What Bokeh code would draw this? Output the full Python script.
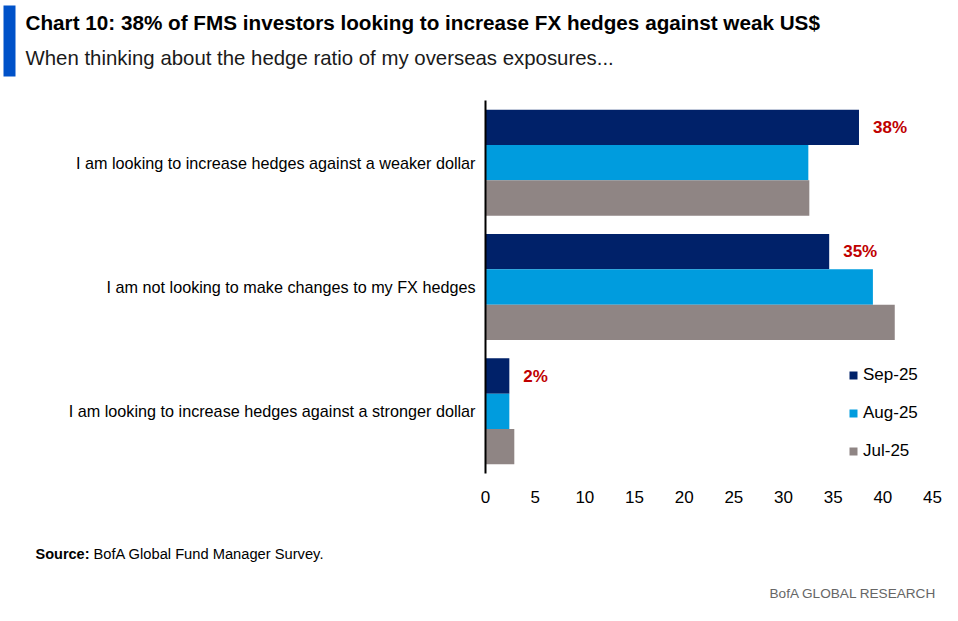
from bokeh.plotting import figure
from bokeh.models import (ColumnDataSource, FactorRange, Range1d, Label, Legend, LegendItem,
                          BoxAnnotation, FixedTicker)
from bokeh.transform import dodge
from bokeh.embed import file_html
from bokeh.resources import INLINE
from bokeh.core.properties import value

# ---------------- data ----------------
categories = [
    "I am looking to increase hedges against a weaker dollar",
    "I am not looking to make changes to my FX hedges",
    "I am looking to increase hedges against a stronger dollar",
]
series_names = ["Sep-25", "Aug-25", "Jul-25"]
sep_25 = [37.6, 34.6, 2.4]
aug_25 = [32.5, 39.0, 2.4]
jul_25 = [32.6, 41.2, 2.9]
x_ticks = [0, 5, 10, 15, 20, 25, 30, 35, 40, 45]

title_text = "Chart 10: 38% of FMS investors looking to increase FX hedges against weak US$"
subtitle_text = "When thinking about the hedge ratio of my overseas exposures..."
source_bold = "Source:"
source_text = "BofA Global Fund Manager Survey."
brand_text = "BofA GLOBAL RESEARCH"

COL_SEP = "#002169"
COL_AUG = "#009CDE"
COL_JUL = "#8F8584"
RED = "#C00000"
FONT = "Liberation Sans"
W = 942


def blank_fig(h, y0, y1):
    f = figure(width=W, height=h, x_range=Range1d(0, W), y_range=Range1d(y1, y0),
               output_backend="svg", toolbar_location=None,
               x_axis_type=None, y_axis_type=None,
               min_border=0, min_border_left=0, min_border_right=0,
               min_border_top=0, min_border_bottom=0)
    f.outline_line_color = None
    f.xgrid.visible = False
    f.ygrid.visible = False
    return f


# ---------------- header ----------------
head = blank_fig(100, 0, 100)
head.add_layout(BoxAnnotation(left=3, right=15, top=5, bottom=76,
                              fill_color="#0052C9", fill_alpha=1, line_color=None))
head.add_layout(Label(x=25, y=22, text=title_text, text_font=FONT, text_font_style="bold",
                      text_font_size="20.7px", text_baseline="middle", text_color="black"))
head.add_layout(Label(x=25, y=57, text=subtitle_text, text_font=FONT,
                      text_font_size="20.4px", text_baseline="middle", text_color="#1a1a1a"))

# ---------------- main chart ----------------
src = ColumnDataSource(dict(
    cat=categories,
    sep=sep_25,
    aug=aug_25,
    jul=jul_25,
    lbl=[f"{v:.0f}%" for v in sep_25],
))

p = figure(
    width=W, height=430,
    y_range=FactorRange(*list(reversed(categories)), range_padding=0),
    x_range=Range1d(0, 45),
    output_backend="svg", toolbar_location=None,
    min_border_left=485, min_border_right=10, min_border_top=0, min_border_bottom=57,
)
p.outline_line_color = None
p.xgrid.visible = False
p.ygrid.visible = False

bh = 0.284
r_sep = p.hbar(y=dodge("cat", bh, range=p.y_range), right="sep", left=0, height=bh,
               source=src, fill_color=COL_SEP, line_color=None)
r_aug = p.hbar(y=dodge("cat", 0, range=p.y_range), right="aug", left=0, height=bh,
               source=src, fill_color=COL_AUG, line_color=None)
r_jul = p.hbar(y=dodge("cat", -bh, range=p.y_range), right="jul", left=0, height=bh,
               source=src, fill_color=COL_JUL, line_color=None)

p.text(x="sep", y=dodge("cat", bh, range=p.y_range), text="lbl", source=src,
       x_offset=14, text_baseline="middle", text_align="left",
       text_color=RED, text_font=value(FONT), text_font_style="bold",
       text_font_size="17px")

p.xaxis.ticker = FixedTicker(ticks=x_ticks)
p.xaxis.axis_line_color = None
p.xaxis.major_tick_line_color = None
p.xaxis.minor_tick_line_color = None
p.xaxis.major_label_standoff = 11
p.xaxis.major_label_text_font = FONT
p.xaxis.major_label_text_font_size = "17px"
p.xaxis.major_label_text_color = "black"

p.yaxis.axis_line_color = "black"
p.yaxis.axis_line_width = 2
p.yaxis.major_tick_line_color = None
p.yaxis.minor_tick_line_color = None
p.yaxis.major_label_standoff = 4
p.yaxis.major_label_text_font = FONT
p.yaxis.major_label_text_font_size = "16.2px"
p.yaxis.major_label_text_color = "black"

legend = Legend(
    items=[LegendItem(label=series_names[0], renderers=[r_sep]),
           LegendItem(label=series_names[1], renderers=[r_aug]),
           LegendItem(label=series_names[2], renderers=[r_jul])],
    location=(363, 10),
    glyph_width=10, glyph_height=10, label_standoff=5,
    label_height=24, spacing=14, padding=0, margin=0,
    label_text_font=FONT, label_text_font_size="17px", label_text_color="black",
    border_line_color=None, background_fill_alpha=0,
)
p.add_layout(legend, "center")

# ---------------- footer ----------------
foot = blank_fig(75, 530, 605)
foot.add_layout(Label(x=35, y=553, text=source_bold, text_font=FONT, text_font_style="bold",
                      text_font_size="14.5px", text_baseline="middle", text_color="black"))
foot.add_layout(Label(x=93, y=553, text=source_text, text_font=FONT,
                      text_font_size="14.7px", text_baseline="middle", text_color="black"))
foot.add_layout(Label(x=936, y=593, text=brand_text, text_font=FONT, text_align="right",
                      text_font_size="13.6px", text_baseline="middle", text_color="#666666"))

open("out.html", "w").write(file_html([head, p, foot], INLINE))
